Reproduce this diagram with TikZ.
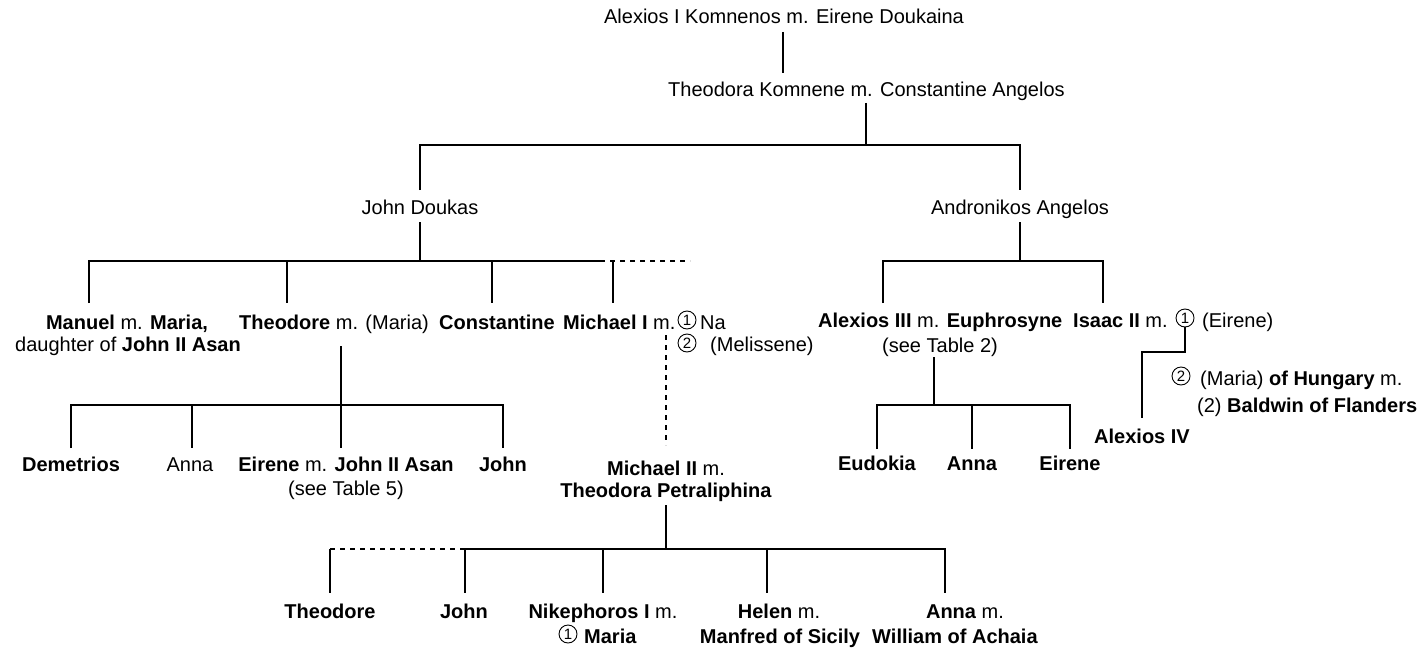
\documentclass[tikz,border=0pt]{standalone}
\usepackage{fontspec}
\setmainfont{Liberation Sans}
\newcommand{\B}[1]{\textbf{#1}}
\begin{document}
\begin{tikzpicture}[x=1pt,y=-1pt,
  every node/.style={font=\fontsize{20}{23}\selectfont, inner sep=0pt},
  lbl/.style={anchor=base},
  lblw/.style={anchor=base west},
  cnum/.style={circle, draw, line width=0.9pt, minimum size=18pt,
               font=\fontsize{15}{15}\selectfont},
  line/.style={line width=1.2pt, line cap=butt},
  dline/.style={line width=1.2pt, dash pattern=on 5pt off 5pt}]
\useasboundingbox (0,0) rectangle (1423,650);

% ---- generations 1 and 2
\node[lbl]  (alex1) at (784,24)  {Alexios I Komnenos m. Eirene Doukaina};
\node[lblw] (theoK) at (668,97)  {Theodora Komnene m. Constantine Angelos};
\node[lbl]  (jd)    at (420,214) {John Doukas};
\node[lbl]  (aa)    at (1020,214){Andronikos Angelos};

% ---- children of John Doukas
\node[lbl]  (man1)  at (127,329) {\B{Manuel} m. \B{Maria,}};
\node[lbl]  (man2)  at (128,351) {daughter of \B{John II Asan}};
\node[lblw] (theo)  at (239,329) {\B{Theodore} m. (Maria)};
\node[lbl]  (const) at (497,329) {\B{Constantine}};
\node[lblw] (mich)  at (563,329) {\B{Michael I} m.};
\node[cnum] (mc1)   at (687,320) {1};
\node[lblw] (na)    at (700,329) {Na};
\node[cnum] (mc2)   at (687,343) {2};
\node[lblw] (meli)  at (710,351) {(Melissene)};

% ---- children of Andronikos Angelos
\node[lblw] (alex3) at (818,327) {\B{Alexios III} m. \B{Euphrosyne}};
\node[lbl]  (tab2)  at (940,352) {(see Table 2)};
\node[lblw] (isaac) at (1073,327){\B{Isaac II} m.};
\node[cnum] (ic1)   at (1185,318){1};
\node[lblw] (ire)   at (1202,327){(Eirene)};
\node[cnum] (ic2)   at (1181,376){2};
\node[lblw] (maria) at (1200,385){(Maria) \B{of Hungary} m.};
\node[lblw] (bald)  at (1197,412){(2) \B{Baldwin of Flanders}};
\node[lbl]  (alex4) at (1142,443){\B{Alexios IV}};

% ---- children of Theodore
\node[lbl]  (dem)   at (71,471)  {\B{Demetrios}};
\node[lbl]  (anna1) at (190,471) {Anna};
\node[lbl]  (eir1)  at (346,471) {\B{Eirene} m. \B{John II Asan}};
\node[lbl]  (tab5)  at (346,495) {(see Table 5)};
\node[lbl]  (john1) at (503,471) {\B{John}};

% ---- Michael II
\node[lbl]  (m2a)   at (666,475) {\B{Michael II} m.};
\node[lbl]  (m2b)   at (666,497) {\B{Theodora Petraliphina}};

% ---- children of Alexios III
\node[lbl]  (eud)   at (877,470) {\B{Eudokia}};
\node[lbl]  (anna2) at (972,470) {\B{Anna}};
\node[lbl]  (eir2)  at (1070,470){\B{Eirene}};

% ---- children of Michael II
\node[lbl]  (theo2) at (330,618) {\B{Theodore}};
\node[lbl]  (john2) at (464,618) {\B{John}};
\node[lbl]  (nik1)  at (603,618) {\B{Nikephoros I} m.};
\node[cnum] (nc1)   at (568,634) {1};
\node[lblw] (nik2)  at (584,643) {\B{Maria}};
\node[lbl]  (hel1)  at (779,618) {\B{Helen} m.};
\node[lbl]  (hel2)  at (780,643) {\B{Manfred of Sicily}};
\node[lbl]  (ann3a) at (965,618) {\B{Anna} m.};
\node[lbl]  (ann3b) at (955,643) {\B{William of Achaia}};

% ---- junction points of the tree
\coordinate (a1s) at (783,32);   \coordinate (tkn) at (783,73);
\coordinate (tks) at (866,103);  \coordinate (b1)  at (866,145);
\coordinate (b1l) at (420,145);  \coordinate (b1r) at (1020,145);
\coordinate (jdn) at (420,190);  \coordinate (aan) at (1020,190);
\coordinate (jds) at (420,222);  \coordinate (b2)  at (420,261);
\coordinate (b2l) at (89,261);   \coordinate (b2r) at (600,261);
\coordinate (b2d) at (690,261);
\coordinate (man) at (89,303);
\coordinate (thb) at (287,261);  \coordinate (thn) at (287,303);
\coordinate (cob) at (492,261);  \coordinate (con) at (492,303);
\coordinate (mib) at (613,261);  \coordinate (min) at (613,303);
\coordinate (aas) at (1020,222); \coordinate (b3)  at (1020,261);
\coordinate (b3l) at (883,261);  \coordinate (b3r) at (1103,261);
\coordinate (a3n) at (883,303);  \coordinate (isn) at (1103,303);
\coordinate (ths) at (341,346);  \coordinate (b4)  at (341,405);
\coordinate (b4l) at (71,405);   \coordinate (b4r) at (503,405);
\coordinate (b4a) at (192,405);
\coordinate (demn) at (71,448);  \coordinate (an1n) at (192,448);
\coordinate (ei1n) at (341,448); \coordinate (jo1n) at (503,448);
\coordinate (mis) at (666,335);  \coordinate (m2n) at (666,445);
\coordinate (m2s) at (666,505);  \coordinate (b5)  at (666,549);
\coordinate (b5l) at (330,549);  \coordinate (b5j) at (463,549);
\coordinate (b5r) at (945,549);
\coordinate (th2n) at (330,593); \coordinate (jo2b) at (465,549); \coordinate (jo2n) at (465,593);
\coordinate (nikb) at (603,549); \coordinate (nikn) at (603,593);
\coordinate (helb) at (767,549); \coordinate (heln) at (767,593);
\coordinate (an3n) at (945,593);
\coordinate (t2s) at (934,357);  \coordinate (b6)  at (934,405);
\coordinate (b6l) at (877,405);  \coordinate (b6r) at (1070,405);
\coordinate (b6a) at (972,405);
\coordinate (eudn) at (877,449); \coordinate (an2n) at (972,449); \coordinate (ei2n) at (1070,449);
\coordinate (ick) at (1185,352);
\coordinate (a4k) at (1142,352); \coordinate (a4n) at (1142,418);

% ---- connectors
\draw[line] (a1s) -- (tkn);
\draw[line] (tks) -- (b1);
\draw[line] (jdn) -- (b1l) -- (b1r) -- (aan);
\draw[line] (jds) -- (b2);
\draw[line] (man) -- (b2l) -- (b2r);
\draw[dline] (b2r) -- (b2d);
\draw[line] (thb) -- (thn);
\draw[line] (cob) -- (con);
\draw[line] (mib) -- (min);
\draw[line] (aas) -- (b3);
\draw[line] (a3n) -- (b3l) -- (b3r) -- (isn);
\draw[line] (ths) -- (ei1n);
\draw[line] (demn) -- (b4l) -- (b4r) -- (jo1n);
\draw[line] (b4a) -- (an1n);
\draw[dline] (mis) -- (m2n);
\draw[line] (m2s) -- (b5);
\draw[dline] (b5l) -- (b5j);
\draw[line] (b5j) -- (b5r) -- (an3n);
\draw[line] (b5l) -- (th2n);
\draw[line] (jo2b) -- (jo2n);
\draw[line] (nikb) -- (nikn);
\draw[line] (helb) -- (heln);
\draw[line] (t2s) -- (b6);
\draw[line] (eudn) -- (b6l) -- (b6r) -- (ei2n);
\draw[line] (b6a) -- (an2n);
\draw[line] (ic1.south) -- (ick) -- (a4k) -- (a4n);
\end{tikzpicture}
\end{document}
